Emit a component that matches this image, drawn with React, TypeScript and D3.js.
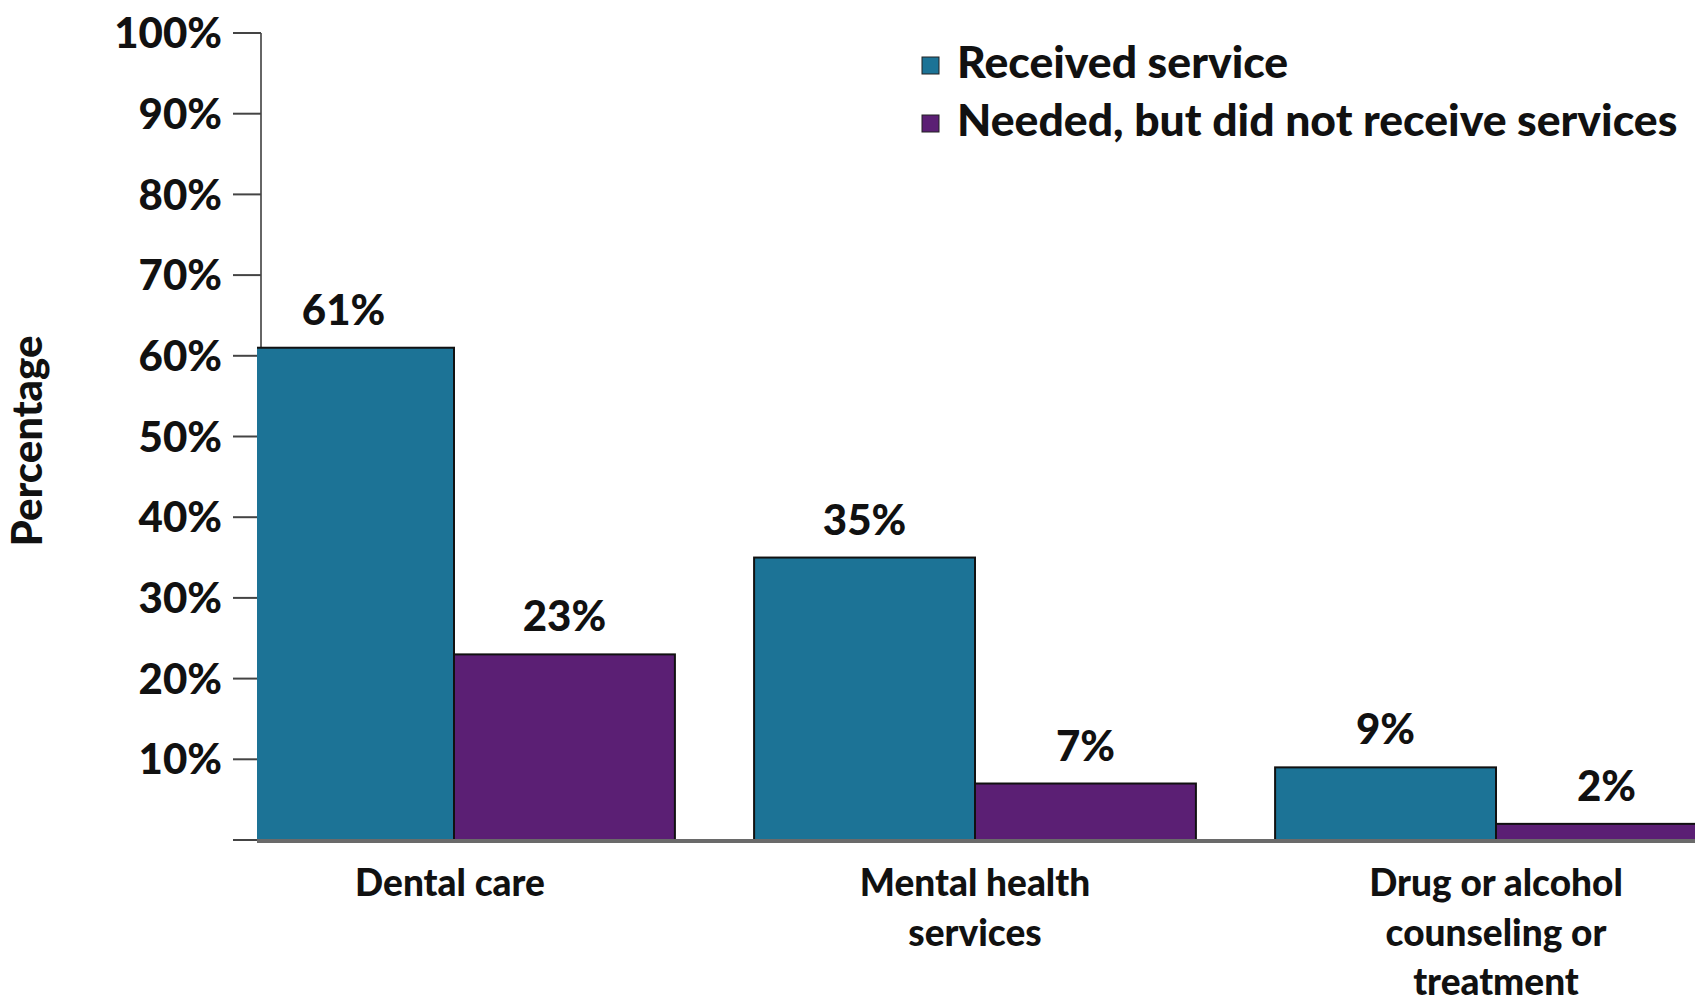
import React from "react";
import * as d3 from "d3";

const categories = ["Dental care", "Mental health services", "Drug or alcohol counseling or treatment"];
const categoryLines = [["Dental care"], ["Mental health", "services"], ["Drug or alcohol", "counseling or", "treatment"]];
const seriesNames = ["Received service", "Needed, but did not receive services"];
const received = [61, 35, 9];
const notReceived = [23, 7, 2];
const yTicks = [0, 10, 20, 30, 40, 50, 60, 70, 80, 90, 100];
const colors = ["#1c7396", "#5b1f74"];

const W = 1695;
const H = 1002;
const FONT = "Lato, 'Open Sans', sans-serif";

export default function App() {
  const y = d3.scaleLinear().domain([0, 100]).range([840, 33]);
  const step = 521;
  const x = d3
    .scaleBand<string>()
    .domain(categories)
    .range([193.5, 193.5 + 3 * step])
    .paddingInner(0.152)
    .paddingOuter(0.076);
  const xs = d3.scaleBand<number>().domain([0, 1]).range([0, x.bandwidth()]);
  const series = [received, notReceived];
  const axisX = 261;
  const catShift = [-4, 0, 0];

  return (
    <svg width={W} height={H} style={{ position: "absolute", left: 0, top: 0, background: "#fff" }}>
      <defs>
        <clipPath id="plot">
          <rect x={257} y={0} width={W - 257} height={H} />
        </clipPath>
      </defs>
      {/* y axis */}
      <line x1={axisX} x2={axisX} y1={y(100)} y2={y(0)} stroke="#666" strokeWidth={2} />
      {yTicks.map((t) => (
        <g key={t}>
          <line x1={233} x2={axisX} y1={y(t)} y2={y(t)} stroke="#444" strokeWidth={2} />
          {t > 0 && (
            <text
              x={222}
              y={y(t)}
              dy="0.36em"
              textAnchor="end"
              fontFamily={FONT}
              fontWeight={900}
              fontSize={42}
              fill="#111"
            >
              {t}%
            </text>
          )}
        </g>
      ))}
      {/* bars */}
      <g clipPath="url(#plot)">
        {categories.map((c, i) =>
          series.map((s, j) => (
            <rect
              key={c + j}
              x={(x(c) as number) + (xs(j) as number)}
              y={y(s[i])}
              width={xs.bandwidth()}
              height={y(0) - y(s[i])}
              fill={colors[j]}
              stroke="#111"
              strokeWidth={2}
            />
          ))
        )}
      </g>
      {/* baseline */}
      <line x1={257} x2={W} y1={y(0) + 1} y2={y(0) + 1} stroke="#6a6a6a" strokeWidth={4} />
      {/* value labels */}
      {categories.map((c, i) =>
        series.map((s, j) => (
          <text
            key={"l" + c + j}
            x={(x(c) as number) + (xs(j) as number) + xs.bandwidth() / 2}
            y={y(s[i]) - 23}
            textAnchor="middle"
            fontFamily={FONT}
            fontWeight={900}
            fontSize={42}
            fill="#111"
          >
            {s[i]}%
          </text>
        ))
      )}
      {/* category labels */}
      {categories.map((c, i) => (
        <text
          key={"c" + c}
          y={896}
          textAnchor="middle"
          fontFamily={FONT}
          fontWeight={900}
          fontSize={37}
          fill="#111"
        >
          {categoryLines[i].map((ln, k) => (
            <tspan key={k} x={(x(c) as number) + x.bandwidth() / 2 + catShift[i]} dy={k === 0 ? 0 : 49.5}>
              {ln}
            </tspan>
          ))}
        </text>
      ))}
      {/* y title */}
      <text
        transform="translate(42,441) rotate(-90)"
        textAnchor="middle"
        fontFamily={FONT}
        fontWeight={900}
        fontSize={42}
        fill="#111"
      >
        Percentage
      </text>
      {/* legend */}
      {seriesNames.map((n, j) => (
        <g key={n} transform={`translate(922, ${57 + j * 58})`}>
          <rect x={0} y={0} width={17} height={17} fill={colors[j]} stroke="#222" strokeWidth={1} />
          <text x={35} y={5} dy="0.36em" fontFamily={FONT} fontWeight={900} fontSize={44.5} fill="#111">
            {n}
          </text>
        </g>
      ))}
    </svg>
  );
}
